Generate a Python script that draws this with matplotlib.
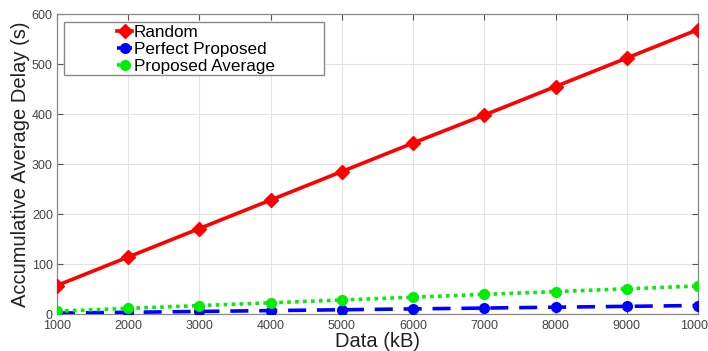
import matplotlib

matplotlib.use("Agg")
import matplotlib.pyplot as plt
from matplotlib.patches import Rectangle

# ── Data ──────────────────────────────────────────────────────────────────────
data_kb = [1000, 2000, 3000, 4000, 5000, 6000, 7000, 8000, 9000, 10000]
random_delay = [57, 114, 171, 228, 285, 342, 398, 455, 512, 569]
perfect_delay = [1.7, 3.4, 5.1, 6.8, 8.5, 10.2, 11.9, 13.6, 15.3, 17.0]
average_delay = [5.6, 11.2, 16.8, 22.4, 28.0, 33.6, 39.2, 44.8, 50.4, 56.0]
x_ticks = [1000, 2000, 3000, 4000, 5000, 6000, 7000, 8000, 9000, 10000]
y_ticks = [0, 100, 200, 300, 400, 500, 600]

# ── Style ─────────────────────────────────────────────────────────────────────
plt.rcParams.update(
    {
        "font.family": ["Liberation Sans", "DejaVu Sans"],
        "xtick.direction": "in",
        "ytick.direction": "in",
        "xtick.top": True,
        "ytick.right": True,
    }
)

fig = plt.figure(figsize=(7.08, 3.51), dpi=100)
ax = fig.add_axes([0.0805, 0.1054, 0.9054, 0.8546])

ax.plot(data_kb, random_delay, color="#ff0000", lw=2.6, marker="D",
        ms=7, label="Random", zorder=3)
ax.plot(data_kb, perfect_delay, color="#0000ff", lw=2.6, ls=(0, (5, 3)),
        marker="o", ms=7, label="Perfect Proposed", zorder=3)
ax.plot(data_kb, average_delay, color="#00ee00", lw=2.6, ls=(0, (1, 1.2)),
        marker="o", ms=7, label="Proposed Average", zorder=3)

ax.set_xlim(1000, 10000)
ax.set_ylim(0, 600)
ax.set_xticks(x_ticks)
ax.set_yticks(y_ticks)
ax.tick_params(labelsize=9, labelcolor="#444444", color="#555555",
               length=4, width=0.8)
ax.tick_params(axis="x", pad=4)
ax.tick_params(axis="y", pad=3)
ax.grid(True, color="#e3e3e3", lw=0.8)
ax.set_axisbelow(True)
for s in ax.spines.values():
    s.set_color("#888888")
    s.set_linewidth(0.9)

ax.set_xlabel("Data (kB)", fontsize=14.5, color="#222222", labelpad=0)
ax.set_ylabel("Accumulative Average Delay (s)", fontsize=14.5,
              color="#222222", labelpad=1)

# MATLAB-style legend box (wide frame, entries offset right)
ax.add_patch(Rectangle((0.011, 0.797), 0.4055, 0.176, transform=ax.transAxes,
                       facecolor="white", edgecolor="#888888", lw=1.0,
                       zorder=4))
leg = ax.legend(loc="upper left", bbox_to_anchor=(0.072, 1.008), frameon=False,
                fontsize=12.3, handlelength=0.9, handletextpad=0.1,
                labelspacing=0.1, borderpad=0.3)
leg.set_zorder(5)

fig.savefig("out.png", dpi=100)
